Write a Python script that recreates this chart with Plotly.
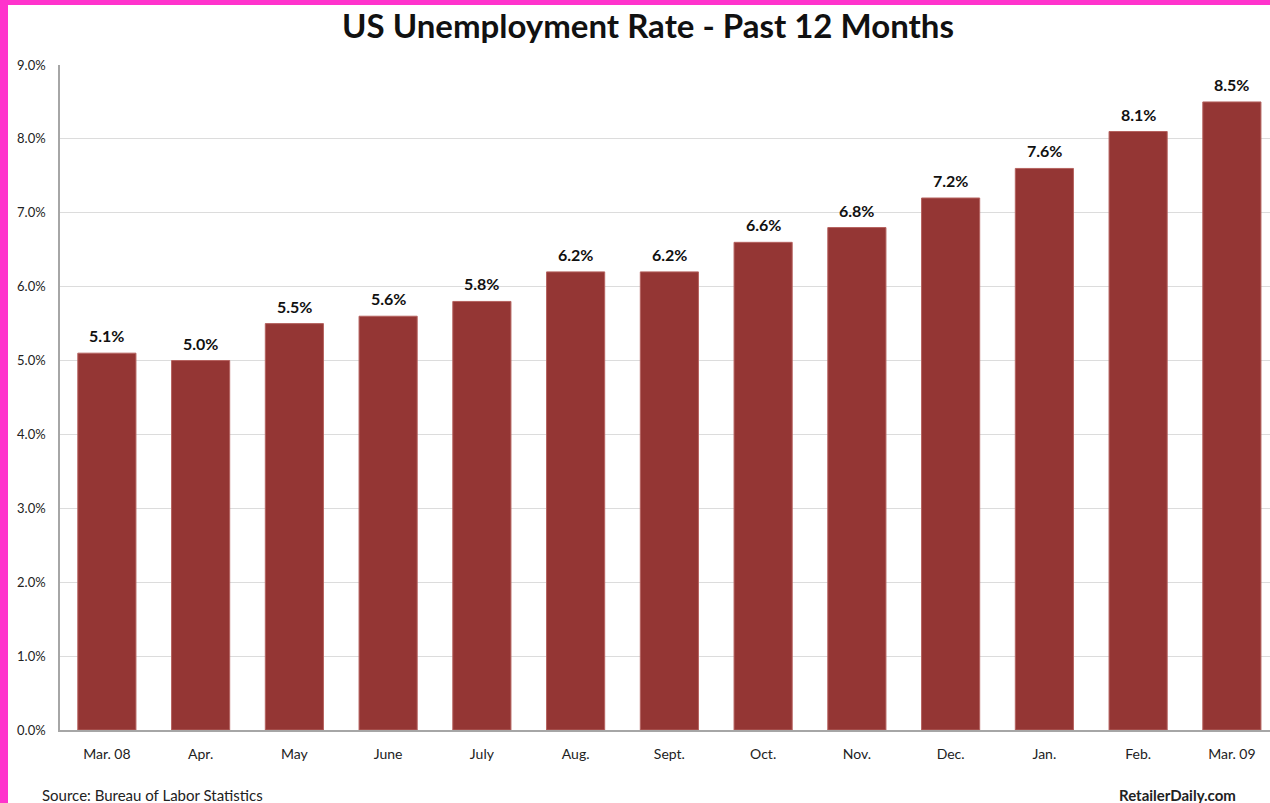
import plotly.graph_objects as go

months = ["Mar. 08", "Apr.", "May", "June", "July", "Aug.", "Sept.", "Oct.", "Nov.", "Dec.", "Jan.", "Feb.", "Mar. 09"]
rates = [5.1, 5.0, 5.5, 5.6, 5.8, 6.2, 6.2, 6.6, 6.8, 7.2, 7.6, 8.1, 8.5]
y_ticks = [0, 1, 2, 3, 4, 5, 6, 7, 8, 9]
y_tick_labels = ["0.0%", "1.0%", "2.0%", "3.0%", "4.0%", "5.0%", "6.0%", "7.0%", "8.0%", "9.0%"]

W, H = 1270, 803
ML, MR, MT, MB = 60, 0, 65, 73
FONT = "Lato, Carlito, 'Open Sans', sans-serif"

fig = go.Figure()
fig.add_trace(go.Bar(
    x=list(range(len(months))), y=rates,
    marker=dict(color="#943634", line=dict(color="#b5625f", width=1)),
    hoverinfo="skip",
))

for i, v in enumerate(rates):
    fig.add_annotation(x=i, y=v, text=f"<b>{v:.1f}%</b>", showarrow=False,
                       yanchor="bottom", yshift=6,
                       font=dict(family=FONT, size=16, color="#111111"))

pw = W - ML - MR
ph = H - MT - MB
def px_x(p):
    return (p - ML) / pw
def px_y(p):
    return (H - MB - p) / ph

shapes = [
    dict(type="rect", xref="paper", yref="paper", x0=px_x(-2), x1=px_x(W + 2), y0=px_y(5), y1=px_y(-2),
         fillcolor="#ff33cc", line=dict(width=0), layer="above"),
    dict(type="rect", xref="paper", yref="paper", x0=px_x(-2), x1=px_x(8), y0=px_y(H + 2), y1=px_y(-2),
         fillcolor="#ff33cc", line=dict(width=0), layer="above"),
]

fig.update_layout(
    width=W, height=H,
    margin=dict(l=ML, r=MR, t=MT, b=MB, pad=0),
    paper_bgcolor="white", plot_bgcolor="white",
    showlegend=False,
    bargap=0.38,
    title=dict(text="<b>US Unemployment Rate - Past 12 Months</b>", x=648 / W, xanchor="center",
               y=1 - 26 / H, yanchor="middle",
               font=dict(family=FONT, size=33, color="#111111")),
    xaxis=dict(
        tickmode="array", tickvals=list(range(len(months))), ticktext=months,
        range=[-0.5, -0.5 + pw / 93.75],
        showgrid=False, showline=True, linecolor="#a6a6a6", linewidth=1.5,
        ticks="", ticklabelstandoff=10,
        tickfont=dict(family=FONT, size=14, color="#222222"),
        fixedrange=True,
    ),
    yaxis=dict(
        tickmode="array", tickvals=y_ticks, ticktext=y_tick_labels,
        range=[0, 9],
        showgrid=True, gridcolor="#dcdcdc", gridwidth=1,
        showline=True, linecolor="#a6a6a6", linewidth=1.5,
        zeroline=False, ticks="", ticklabelstandoff=10,
        tickfont=dict(family=FONT, size=13, color="#222222"),
        fixedrange=True,
    ),
    shapes=shapes,
)

fig.add_annotation(xref="paper", yref="paper", x=px_x(40), y=px_y(795), xanchor="left", yanchor="middle",
                   text="Source: Bureau of Labor Statistics", showarrow=False,
                   font=dict(family=FONT, size=15, color="#222222"))
fig.add_annotation(xref="paper", yref="paper", x=px_x(1238), y=px_y(795), xanchor="right", yanchor="middle",
                   text="<b>RetailerDaily.com</b>", showarrow=False,
                   font=dict(family=FONT, size=15, color="#222222"))

fig.write_html("out.html", config={"displayModeBar": False},
               post_script="document.body.style.margin='0';document.body.style.overflow='hidden';")
